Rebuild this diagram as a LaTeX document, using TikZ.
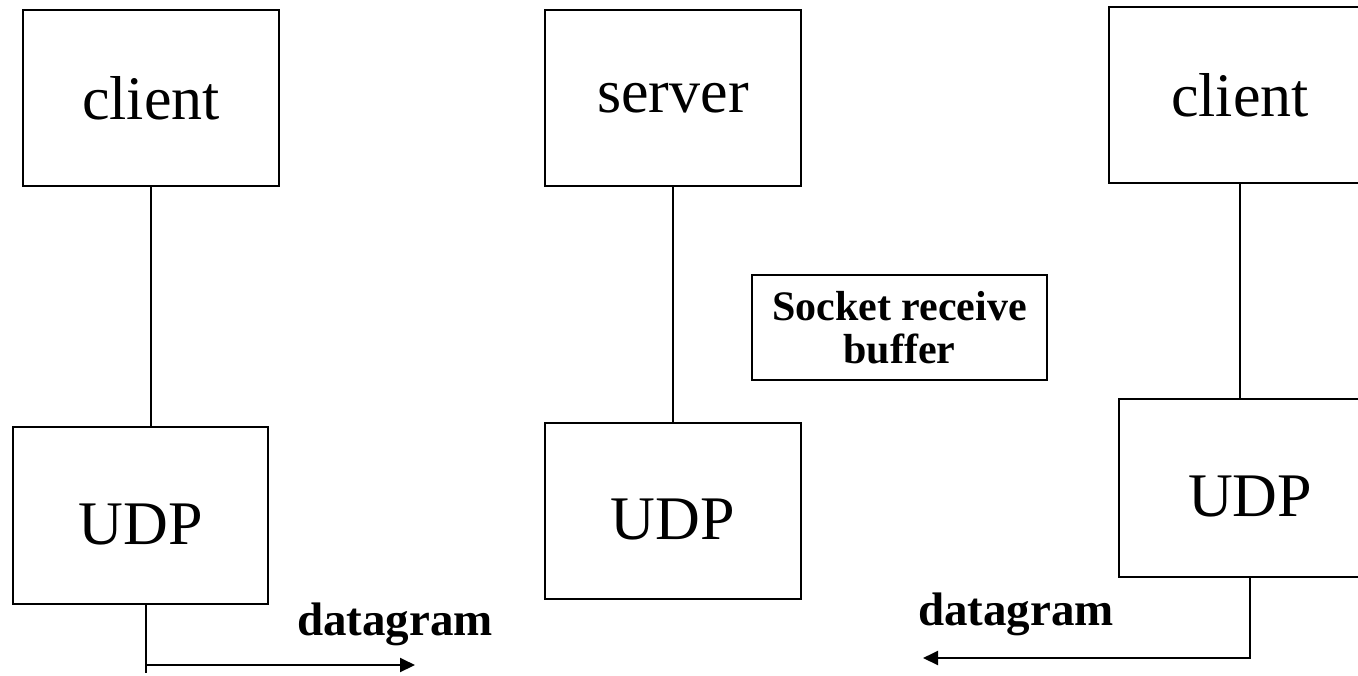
\documentclass[tikz,border=0pt]{standalone}
\usepackage{fontspec}
\setmainfont{Liberation Serif}
\usetikzlibrary{arrows.meta}
\begin{document}
\begin{tikzpicture}[x=0.5pt,y=-0.5pt,line width=1pt,
    every node/.style={inner sep=0pt},
    box/.style={draw,minimum width=128pt,minimum height=88pt,font=\fontsize{31}{31}\selectfont},
    proto/.style={box,text height=29pt},
    tag/.style={font=\fontsize{23.5}{24}\selectfont\bfseries,anchor=base},
    arr/.style={-{Triangle[length=7.5pt,width=7pt]}}]
  \path[use as bounding box,clip](0,0)rectangle(1358,675);
  \node[box](cli1)at(151,98){client};
  \node[proto,minimum width=127.5pt,minimum height=88.5pt](udp1)at(140.5,515.5){UDP};
  \node[box](srv)at(673,98){server};
  \node[proto](udp2)at(673,511){UDP};
  \node[draw,minimum width=147.5pt,minimum height=52.5pt,align=center,
    font=\fontsize{21}{21.5}\selectfont\bfseries](buf)at(899.5,327.5){Socket receive\\buffer};
  \node[box,minimum width=131pt](cli2)at(1240,95){client};
  \node[proto,minimum width=131pt,minimum height=89pt](udp3)at(1250,488){UDP};
  \foreach \a/\b in{cli1/udp1,srv/udp2,cli2/udp3}
    \draw(\a.south)--(\a.south|-\b.north);
  % datagram going out on the left, coming back on the right
  \coordinate(footL)at(146,673);
  \coordinate(tipL)at(415,665);
  \coordinate(tipR)at(923,658);
  \draw(udp1.south-|footL)--(footL);
  \draw[arr](footL|-tipL)--(tipL);
  \draw[arr](udp3.south)|-(tipR);
  \node[tag](dgL)at(395,635){datagram};
  \node[tag](dgR)at(1016,625){datagram};
\end{tikzpicture}
\end{document}
